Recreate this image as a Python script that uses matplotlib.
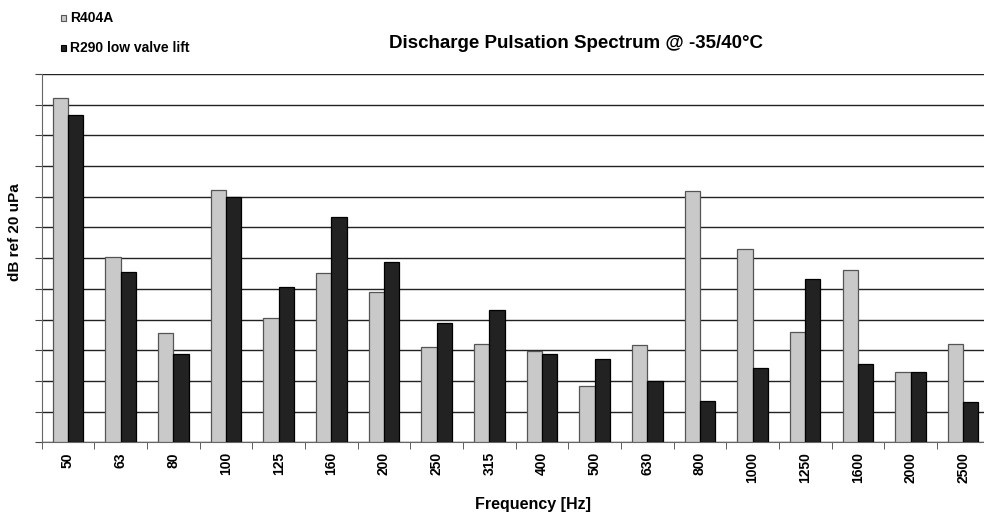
import numpy as np
import matplotlib
matplotlib.use('Agg')
import matplotlib.pyplot as plt
from matplotlib.patches import Rectangle

plt.rcParams['font.family'] = ['Liberation Sans', 'DejaVu Sans']

# bandas de frecuencia (Hz) y niveles (en divisiones de la rejilla)
frecuencias = ['50', '63', '80', '100', '125', '160', '200', '250', '315',
               '400', '500', '630', '800', '1000', '1250', '1600', '2000', '2500']
r404a = [11.21, 6.05, 3.55, 8.22, 4.04, 5.53, 4.89, 3.12, 3.21,
         2.98, 1.82, 3.18, 8.19, 6.31, 3.60, 5.62, 2.30, 3.19]
r290_low = [10.67, 5.56, 2.87, 8.00, 5.06, 7.33, 5.89, 3.88, 4.31,
            2.89, 2.73, 2.00, 1.35, 2.43, 5.33, 2.56, 2.30, 1.31]

fig = plt.figure(figsize=(9.84, 5.16), dpi=100)
ax = fig.add_axes([41.7 / 984, 73.7 / 516, 947.8 / 984, 368.3 / 516])

x = np.arange(len(frecuencias))
w = 0.29
ax.bar(x - w / 2, r404a, w, color='#c9c9c9', edgecolor='#555555', linewidth=0.9, zorder=3)
ax.bar(x + w / 2, r290_low, w, color='#222222', edgecolor='#000000', linewidth=0.9, zorder=3)

ax.set_xlim(-0.5, len(frecuencias) - 0.5)
ax.set_ylim(0, 12)
ax.set_yticks(np.arange(0, 13, 1))
ax.set_yticklabels([])
ax.yaxis.grid(True, color='#222222', linewidth=1.0, zorder=0)

ax.set_xticks(x)
ax.set_xticklabels(frecuencias, rotation=90, fontsize=10, fontweight='bold')
ax.set_xticks(np.arange(-0.5, len(frecuencias), 1), minor=True)
ax.tick_params(axis='x', which='major', length=0, pad=7)
ax.tick_params(axis='x', which='minor', length=5, color='#444444', direction='out')
ax.tick_params(axis='y', length=5, color='#444444', direction='out')

for s in ['top', 'right']:
    ax.spines[s].set_visible(False)
ax.spines['left'].set_color('#666666')
ax.spines['bottom'].set_color('#666666')

fig.text(15 / 984, 1 - 232 / 516, 'dB ref 20 uPa', rotation=90, ha='center', va='center',
         fontsize=11, fontweight='bold')
fig.text(533 / 984, 1 - 505 / 516, 'Frequency [Hz]', ha='center', va='center',
         fontsize=11.5, fontweight='bold')
fig.text(576 / 984, 1 - 43 / 516, 'Discharge Pulsation Spectrum @ -35/40°C',
         ha='center', va='center', fontsize=13.5, fontweight='bold')

# leyenda manual arriba a la izquierda
for yy, col, ec, lab in [(18, '#c9c9c9', '#555555', 'R404A'),
                          (48, '#222222', '#000000', 'R290 low valve lift')]:
    fig.add_artist(Rectangle((60.5 / 984, 1 - (yy + 3) / 516), 5.5 / 984, 6 / 516,
                             transform=fig.transFigure, facecolor=col,
                             edgecolor=ec, linewidth=0.8))
    fig.text(70 / 984, 1 - yy / 516, lab, ha='left', va='center',
             fontsize=10, fontweight='bold')

fig.savefig('out.png', dpi=100)
